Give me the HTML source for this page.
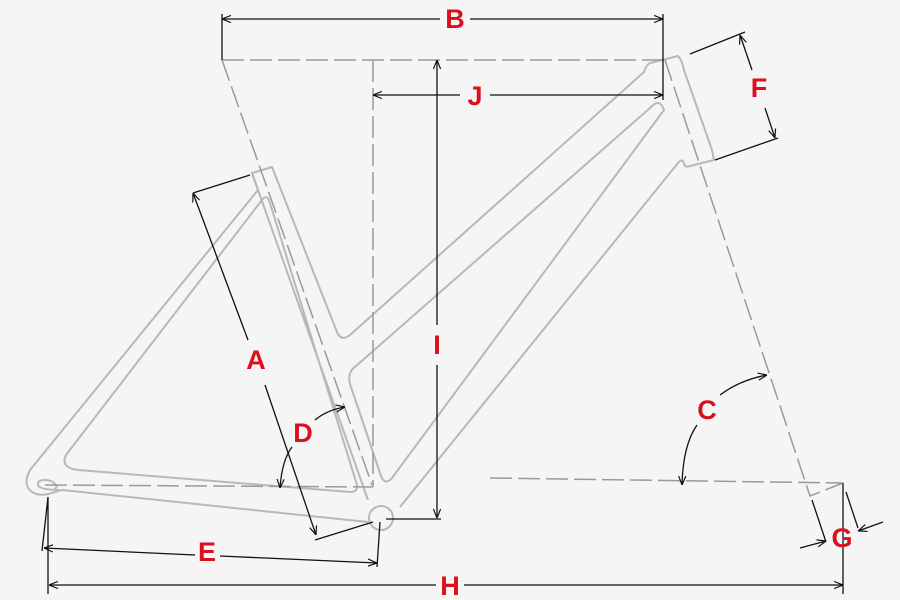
<!DOCTYPE html>
<html><head><meta charset="utf-8"><style>
html,body{margin:0;padding:0;background:#f5f5f5;}
svg{display:block;}
text{font-family:"Liberation Sans",sans-serif;font-weight:bold;font-size:27px;fill:#dc0f1c;text-anchor:middle;dominant-baseline:central;}
</style></head><body>
<svg width="900" height="600" viewBox="0 0 900 600" xmlns="http://www.w3.org/2000/svg">
<defs>
<marker id="a" viewBox="0 0 10 10" refX="10" refY="5" markerWidth="9" markerHeight="9" orient="auto-start-reverse" markerUnits="userSpaceOnUse">
<path d="M0,1 L10,5 L0,9" fill="none" stroke="#111" stroke-width="1.3"/></marker>
</defs>
<rect width="900" height="600" fill="#f5f5f5"/>
<!-- frame -->
<g fill="none" stroke="#b8b8b8" stroke-width="2" stroke-linejoin="round">
<!-- seat tube cap and left edge -->
<path d="M258,190 L252,173 L272,167 L337,332 Q341,342 350,335 L644,72 Q646,65 650,63 L678,56 Q682,60 684,70 L712,150 L714,160 L690,166 Q684,168 684,163 Q682,158 678,163 L400,507"/>
<path d="M252,173 L368,500"/>
<!-- top tube lower + down tube upper slot -->
<path d="M650,108 Q660,97 664,110 L392,478 Q385,486 381,476 L350,384 Q347,372 356,366 L650,108"/>
<!-- seat stay outer -->
<path d="M258,190 L30,470 Q22,485 32,492 Q40,497 52,493 Q58,491 62,490 L368,522"/>
<!-- inner triangle -->
<path d="M262,200 Q267,193 270,203 L357,485 Q358,492 350,492 L78,470 Q60,468 66,455 Z"/>
<!-- dropout hook -->
<path d="M60,490 Q40,490 38,485 Q37,480 45,480 Q52,480 55,484 Q58,487 55,489"/>
<circle cx="381" cy="518" r="12"/>
</g>
<!-- dashed lines -->
<g fill="none" stroke="#9a9a9a" stroke-width="1.5" stroke-dasharray="22,6">
<path d="M222,60 L665,60"/>
<path d="M373,60 L373,487"/>
<path d="M222,60 L372,485"/>
<path d="M45,485 L373,487"/>
<path d="M665,60 L810,496 L843,483"/>
<path d="M490,478 L843,483"/>
</g>
<!-- dimensions -->
<g fill="none" stroke="#111" stroke-width="1.3">
<path d="M222,14 V60 M663,14 V100"/>
<path d="M470,19 L663,19" marker-end="url(#a)"/>
<path d="M440,19 L222,19" marker-end="url(#a)"/>
<path d="M490,95 L663,95" marker-end="url(#a)"/>
<path d="M460,95 L373,95" marker-end="url(#a)"/>
<path d="M437,325 L437,60" marker-end="url(#a)"/>
<path d="M437,365 L437,518" marker-end="url(#a)"/>
<path d="M386,519 H441"/>
<path d="M690,54 L745,32 M715,160 L778,138"/>
<path d="M752,70 L740,35" marker-end="url(#a)"/>
<path d="M765,108 L775,138" marker-end="url(#a)"/>
<path d="M193,193 L250,175 M315,540 L373,522"/>
<path d="M248,340 L193,193" marker-end="url(#a)"/>
<path d="M265,385 L316,535" marker-end="url(#a)"/>
<path d="M315,420 Q327,410 345,407" marker-end="url(#a)"/>
<path d="M292,447 Q282,460 280,488" marker-end="url(#a)"/>
<path d="M720,395 Q740,380 767,375" marker-end="url(#a)"/>
<path d="M697,425 Q683,445 682,485" marker-end="url(#a)"/>
<path d="M48,497 L42,551 M48,497 V594 M380,522 L377,567"/>
<path d="M195,555 L44,548" marker-end="url(#a)"/>
<path d="M220,556 L377,563" marker-end="url(#a)"/>
<path d="M436,585 L49,585" marker-end="url(#a)"/>
<path d="M464,585 L843,585" marker-end="url(#a)"/>
<path d="M843,483 V594"/>
<path d="M812,500 L826,542 M846,492 L858,528"/>
<path d="M800,548 L826,541" marker-end="url(#a)"/>
<path d="M883,522 L858,531" marker-end="url(#a)"/>
</g>
<text x="455" y="19">B</text>
<text x="475" y="96">J</text>
<text x="437" y="345">I</text>
<text x="759" y="88">F</text>
<text x="256" y="360">A</text>
<text x="303" y="433">D</text>
<text x="707" y="410">C</text>
<text x="207" y="552">E</text>
<text x="450" y="586">H</text>
<text x="842" y="538">G</text>
</svg>
</body></html>
